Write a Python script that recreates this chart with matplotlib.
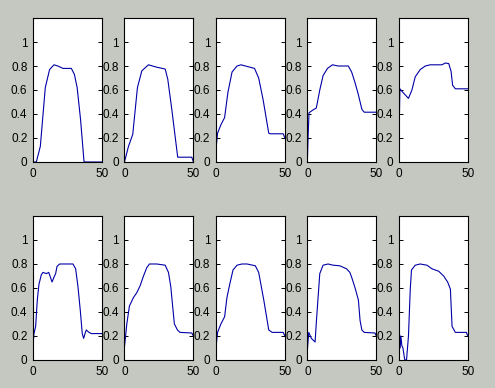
import matplotlib
matplotlib.use("Agg")
import matplotlib.pyplot as plt

# ten profiles (x in 0..50)
p1_x = [0, 2.4, 5.3, 8.9, 12, 15.2, 18, 21.7, 27.8, 30, 32, 34.5, 37, 50]
p1_y = [0, 0, 0.13, 0.62, 0.77, 0.81, 0.8, 0.78, 0.78, 0.73, 0.62, 0.35, 0, 0]

p2_x = [0, 2.9, 6, 9.4, 12.6, 17.4, 23.4, 29.5, 31.4, 34.3, 38.6, 48.8, 50]
p2_y = [0, 0.13, 0.23, 0.62, 0.76, 0.81, 0.79, 0.775, 0.69, 0.44, 0.04, 0.04, 0]

p3_x = [0, 1.2, 3.6, 6.3, 8.7, 11.7, 15.3, 18.2, 21.4, 28, 31, 34.2, 38.3, 39.6, 48.8, 50]
p3_y = [0.1, 0.24, 0.31, 0.37, 0.58, 0.75, 0.8, 0.81, 0.8, 0.78, 0.7, 0.52, 0.24, 0.235, 0.235, 0.2]

p4_x = [0, 0.5, 1.2, 3.6, 6.5, 9, 11.4, 14.6, 18.2, 22.3, 27, 29.7, 32.1, 34.6, 37, 39.5, 41.2, 50]
p4_y = [0, 0.2, 0.41, 0.43, 0.45, 0.6, 0.72, 0.78, 0.81, 0.8, 0.8, 0.8, 0.75, 0.66, 0.56, 0.44, 0.415, 0.415]

p5_x = [0, 0.3, 0.8, 2.2, 7, 9.5, 11.9, 15.5, 19.2, 22.8, 31.3, 33.7, 36.2, 37.9, 39, 41, 50]
p5_y = [0, 0.3, 0.61, 0.59, 0.53, 0.6, 0.71, 0.77, 0.8, 0.81, 0.81, 0.825, 0.82, 0.755, 0.64, 0.61, 0.61]

p6_x = [0, 0.7, 1.9, 3.1, 4.3, 6, 7.2, 9.7, 11.4, 12.6, 13.8, 15.2, 16.4, 17.4, 19.3, 29, 30.9,
        32.6, 34.3, 35.7, 36.7, 37.7, 38.6, 40.6, 42.3, 50]
p6_y = [0.12, 0.22, 0.28, 0.5, 0.63, 0.71, 0.73, 0.72, 0.73, 0.69, 0.65, 0.69, 0.72, 0.78, 0.8, 0.8, 0.76,
        0.61, 0.41, 0.22, 0.18, 0.22, 0.25, 0.23, 0.22, 0.22]

p7_x = [0, 1.7, 3.6, 6.5, 8.9, 11.4, 13.8, 16.2, 18.1, 23.4, 29.5, 31.9, 33.6, 35, 36.2, 38.4, 40.3, 48.8, 50]
p7_y = [0.11, 0.3, 0.45, 0.52, 0.56, 0.62, 0.7, 0.77, 0.8, 0.8, 0.79, 0.73, 0.61, 0.44, 0.3, 0.25, 0.23, 0.225, 0.2]

p8_x = [0, 1.2, 3.6, 6.3, 8, 10, 12.4, 15.3, 18.9, 22.6, 28.6, 31, 34.7, 38.3, 40.8, 48.8, 50]
p8_y = [0.1, 0.23, 0.3, 0.36, 0.52, 0.63, 0.75, 0.79, 0.8, 0.8, 0.785, 0.73, 0.5, 0.25, 0.23, 0.23, 0.2]

p9_x = [0, 1, 2.9, 5.6, 6.6, 9, 11.4, 15, 18.7, 23.5, 28.4, 30.8, 32.1, 34.6, 37, 38.2, 39.5, 41.2, 49, 50]
p9_y = [0.08, 0.23, 0.18, 0.15, 0.33, 0.72, 0.79, 0.8, 0.79, 0.785, 0.76, 0.73, 0.69, 0.6, 0.5, 0.33, 0.25,
        0.23, 0.225, 0.2]

p10_x = [0, 0.5, 1, 1.5, 2.2, 3, 4.3, 5.6, 7, 8.3, 9.2, 11.9, 15.5, 20.4, 24, 28.9, 32.5, 35.4, 37.4,
         38.6, 41, 49, 50]
p10_y = [0.07, 0.22, 0.1, 0.2, 0.12, 0.1, 0, 0, 0.2, 0.59, 0.75, 0.79, 0.8, 0.79, 0.76, 0.74, 0.7, 0.65, 0.59,
         0.28, 0.23, 0.23, 0.2]

xs = [p1_x, p2_x, p3_x, p4_x, p5_x, p6_x, p7_x, p8_x, p9_x, p10_x]
ys = [p1_y, p2_y, p3_y, p4_y, p5_y, p6_y, p7_y, p8_y, p9_y, p10_y]

y_ticks = [0, 0.2, 0.4, 0.6, 0.8, 1]
y_labels = ["0", "0.2", "0.4", "0.6", "0.8", "1"]
x_ticks = [0, 50]

plt.rcParams["font.family"] = ["Liberation Sans", "DejaVu Sans"]

fig, axes = plt.subplots(2, 5, figsize=(4.95, 3.88), dpi=100)
fig.patch.set_facecolor("#c4c8c1")
fig.subplots_adjust(left=0.0667, right=0.945, bottom=0.0722, top=0.9536,
                    wspace=0.326, hspace=0.375)

for ax, x, y in zip(axes.flat, xs, ys):
    ax.plot(x, y, color="#0000a8", lw=0.8)
    ax.set_xlim(0, 50)
    ax.set_ylim(0, 1.2)
    ax.set_xticks(x_ticks)
    ax.set_xticklabels(["0", "50"])
    ax.set_yticks(y_ticks)
    ax.set_yticklabels(y_labels)
    ax.tick_params(direction="in", length=3, width=0.7, top=True, right=True,
                   labelsize=8.5, pad=4)
    for s in ax.spines.values():
        s.set_linewidth(0.8)

fig.savefig("out.png", dpi=100, facecolor=fig.get_facecolor())
